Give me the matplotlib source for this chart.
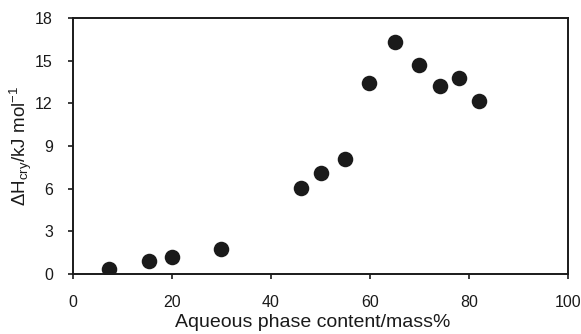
import matplotlib
matplotlib.use("Agg")
import matplotlib.pyplot as plt

plt.rcParams['font.family'] = ['Liberation Sans', 'DejaVu Sans']
plt.rcParams['mathtext.fontset'] = 'custom'
plt.rcParams['mathtext.rm'] = 'Liberation Sans'
plt.rcParams['mathtext.it'] = 'Liberation Sans:italic'

aqueous_content = [7.3, 15.3, 20.0, 30.0, 46.1, 50.2, 54.9, 59.9, 65.0, 70.0, 74.1, 78.0, 82.1]
delta_h_cry = [0.37, 0.94, 1.2, 1.74, 6.07, 7.12, 8.09, 13.43, 16.34, 14.72, 13.2, 13.78, 12.17]
x_ticks = [0, 20, 40, 60, 80, 100]
y_ticks = [0, 3, 6, 9, 12, 15, 18]

fig = plt.figure(figsize=(5.81, 3.34), dpi=100)
ax = fig.add_axes([0.1256, 0.1796, 0.852, 0.7664])
ax.scatter(aqueous_content, delta_h_cry, s=125, color='#1a1a1a', zorder=3, linewidths=0)
ax.set_xlim(0, 100)
ax.set_ylim(0, 18)
ax.set_xticks(x_ticks)
ax.set_yticks(y_ticks)
for sp in ax.spines.values():
    sp.set_linewidth(1.4)
    sp.set_color('#1a1a1a')
ax.tick_params(direction='out', length=3.5, width=1.2, labelsize=11.5, colors='#1a1a1a')
ax.tick_params(axis='x', pad=11.5)
ax.tick_params(axis='y', pad=11)
ax.set_xlabel('Aqueous phase content/mass%', fontsize=14, labelpad=3, color='#1a1a1a')
ax.xaxis.label.set_x(0.484)
ax.set_ylabel(r'$\Delta$H$_{\rm cry}$/kJ mol$^{-1}$', fontsize=13.5, labelpad=1, color='#1a1a1a')
fig.savefig('out.png', dpi=100)
